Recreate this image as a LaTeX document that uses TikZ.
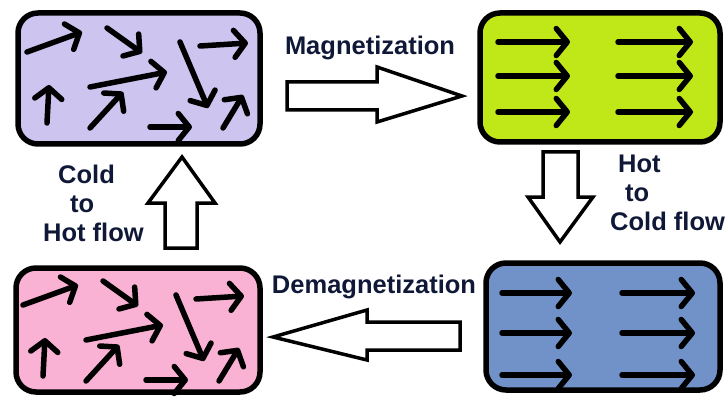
\documentclass[tikz,border=0pt]{standalone}
\usepackage{fontspec}
\setmainfont{Liberation Sans}
\usetikzlibrary{arrows.meta}
\definecolor{boxlilac}{RGB}{205,196,240}
\definecolor{boxlime}{RGB}{192,232,24}
\definecolor{boxpink}{RGB}{250,178,212}
\definecolor{boxsteel}{RGB}{112,146,200}
\definecolor{labelnavy}{RGB}{16,24,56}
\tikzset{
	phasebox/.style={draw=black, line width=5.5pt, rounded corners=20pt, inner sep=0pt},
	spin/.style={line width=5.5pt, line cap=round, -{Straight Barb[length=11pt,width=27pt,round]}},
	blockarrow/.style={draw=black, fill=white, line width=3.5pt},
	flowlabel/.style={text=labelnavy, inner sep=0pt, font=\bfseries\fontsize{25.5}{29}\selectfont}
}
\newcommand\randomspins{
	\draw[spin] (27,52) -- (82,32);
	\draw[spin] (107,28) -- (142,53);
	\draw[spin] (200,46) -- (248,43);
	\draw[spin] (180,42) -- (208,108);
	\draw[spin] (90,87) -- (167,72);
	\draw[spin] (47,123) -- (49,85);
	\draw[spin] (90,128) -- (123,92);
	\draw[spin] (150,127) -- (192,127);
	\draw[spin] (223,128) -- (243,95);
}
\begin{document}
\begin{tikzpicture}[x=1pt,y=-1pt]
	\useasboundingbox (0,0) rectangle (727,398);
	
	\node[phasebox, fill=boxlilac, minimum width=242pt, minimum height=131pt] (warm) at (139,78.5) {};
	\node[phasebox, fill=boxlime, minimum width=240pt, minimum height=129pt] (magnetized) at (600,77.5) {};
	\node[phasebox, fill=boxsteel, minimum width=234pt, minimum height=127pt] (cooled) at (603,326.5) {};
	\node[phasebox, fill=boxpink, minimum width=244pt, minimum height=124pt] (cold) at (138,330) {};
	
	\randomspins
	\begin{scope}[shift={(-4,253)}]
		\randomspins
	\end{scope}
	\foreach \y in {42,76,112}{
		\draw[spin] (498,\y) -- (570,\y);
		\draw[spin] (618,\y) -- (693,\y);
	}
	\foreach \y in {293,333,375}{
		\draw[spin] (502,\y) -- (572,\y);
		\draw[spin] (622,\y) -- (695,\y);
	}
	
	\draw[blockarrow] (287,82) -- (377,82) -- (377,67) -- (462,96) -- (377,122) -- (377,110) -- (287,110) -- cycle;
	\draw[blockarrow] (543,152) -- (578,152) -- (578,197) -- (593,197) -- (560,242) -- (528,197) -- (543,197) -- cycle;
	\draw[blockarrow] (460,322) -- (367,322) -- (367,310) -- (273,337) -- (367,360) -- (367,350) -- (460,350) -- cycle;
	\draw[blockarrow] (165,248) -- (165,203) -- (148,203) -- (182,157) -- (215,203) -- (197,203) -- (197,248) -- cycle;
	
	\node[flowlabel] (magnet) at (370,48) {Magnetization};
	\node[flowlabel] (demagnet) at (374,287) {Demagnetization};
	\node[flowlabel, anchor=north west, align=left] (hotcold) at (610,155) {\hspace*{8pt}Hot\\\hspace*{15pt}to\\Cold flow};
	\node[flowlabel, anchor=north west, align=left] (coldhot) at (43,165) {\hspace*{15pt}Cold\\\hspace*{27pt}to\\Hot flow};
\end{tikzpicture}
\end{document}
